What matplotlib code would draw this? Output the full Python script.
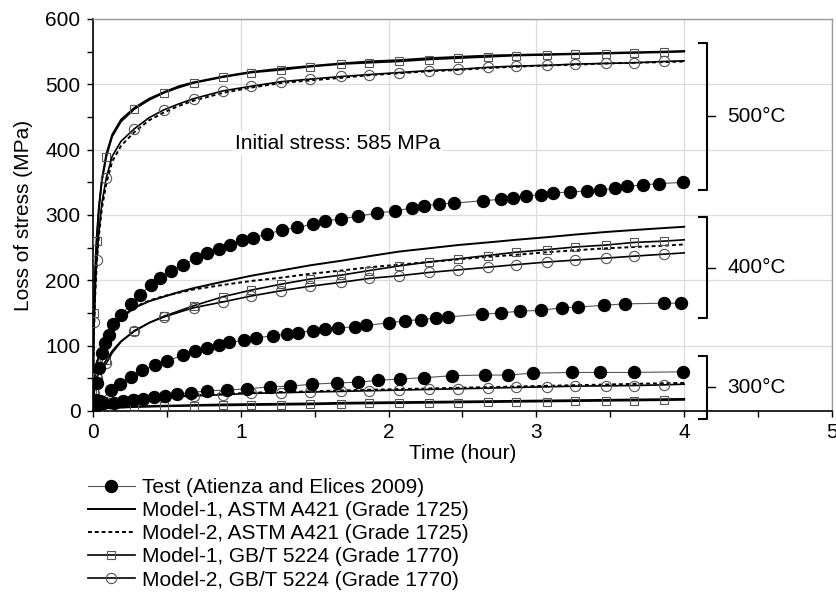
import matplotlib
matplotlib.use('Agg')
import matplotlib.pyplot as plt
from matplotlib.lines import Line2D
from matplotlib.ticker import MultipleLocator

plt.rcParams['font.family'] = ['Liberation Sans', 'DejaVu Sans']
plt.rcParams['font.size'] = 15

# ---------------- data ----------------
# Test data (Atienza and Elices 2009)
TEST_500_T = [0.02, 0.027, 0.04, 0.06, 0.08, 0.11, 0.135, 0.19, 0.26, 0.32, 0.39, 0.45, 0.53, 0.61,
              0.70, 0.77, 0.85, 0.93, 1.01, 1.08, 1.18, 1.28, 1.38, 1.49, 1.57, 1.68, 1.79, 1.92,
              2.04, 2.16, 2.24, 2.34, 2.44, 2.64, 2.76, 2.84, 2.93, 3.03, 3.11, 3.23, 3.34, 3.43,
              3.53, 3.61, 3.72, 3.83, 3.99]
TEST_500_Y = [17, 43, 66, 89, 104, 117, 133, 147, 164, 178, 193, 204, 214, 224,
              234, 242, 248, 254, 261, 265, 271, 277, 281, 286, 291, 294, 298, 303,
              306, 311, 314, 317, 318, 322, 324, 326, 329, 331, 334, 335, 337, 338,
              341, 344, 346, 348, 350]

TEST_400_T = [0.01, 0.05, 0.12, 0.18, 0.26, 0.33, 0.42, 0.50, 0.61, 0.69, 0.77, 0.85, 0.92, 1.02,
              1.10, 1.22, 1.31, 1.39, 1.49, 1.57, 1.66, 1.77, 1.85, 2.00, 2.11, 2.22, 2.32, 2.40,
              2.63, 2.76, 2.89, 3.03, 3.17, 3.28, 3.46, 3.60, 3.86, 3.98]
TEST_400_Y = [5, 15, 32, 41, 52, 62, 70, 77, 85, 92, 96, 101, 105, 108,
              112, 115, 118, 120, 123, 125, 127, 129, 131, 135, 138, 140, 142, 144,
              148, 150, 153, 154, 158, 159, 162, 164, 165, 165]

TEST_300_T = [0.005, 0.02, 0.04, 0.07, 0.14, 0.20, 0.27, 0.34, 0.41, 0.49, 0.57, 0.66, 0.77, 0.91,
              1.04, 1.20, 1.33, 1.48, 1.65, 1.79, 1.93, 2.08, 2.24, 2.43, 2.65, 2.81, 2.98, 3.24,
              3.43, 3.66, 3.99]
TEST_300_Y = [3, 8, 10, 12, 13, 15, 17, 19, 22, 23, 26, 28, 31, 32,
              34, 37, 38, 41, 43, 44, 47, 49, 51, 54, 55, 55, 58, 59,
              59, 59, 60]

# Model curves, common time grid (hour)
T_MODEL = [0.0, 0.003, 0.008, 0.015, 0.025, 0.04, 0.06, 0.09, 0.13, 0.19, 0.28, 0.38, 0.48, 0.58,
           0.68, 0.88, 1.07, 1.27, 1.47, 1.68, 1.87, 2.07, 2.27, 2.47, 2.67, 2.86, 3.07, 3.26,
           3.47, 3.66, 3.86, 4.0]

# 500 C
M1_ASTM_500 = [0, 112, 167, 217, 265, 312, 354, 393, 423, 446, 464, 478, 488, 497,
               503, 512, 519, 524, 528, 532, 535, 537, 540, 542, 544, 545, 546, 547,
               548, 549, 550, 551]
M2_ASTM_500 = [0, 75, 130, 178, 224, 268, 310, 348, 382, 406, 427, 445, 457, 467,
               475, 487, 495, 502, 506, 510, 514, 517, 520, 522, 525, 527, 529, 530,
               532, 533, 534, 535]
M1_GB_500 = [0, 110, 150, 210, 260, 310, 352, 389, 420, 443, 462, 476, 487, 495,
             502, 511, 518, 522, 527, 531, 533, 535, 538, 540, 542, 544, 545, 546,
             547, 548, 549, 550]
M2_GB_500 = [0, 80, 136, 185, 231, 275, 318, 357, 390, 413, 432, 449, 461, 470,
             478, 490, 497, 504, 508, 512, 515, 518, 521, 523, 526, 528, 529, 531,
             532, 533, 535, 536]

# 400 C
M1_ASTM_400 = [0, 25, 45, 60, 72, 84, 96, 110, 126, 142, 158, 168, 175, 182,
               188, 198, 207, 215, 223, 230, 237, 244, 249, 254, 258, 262, 266, 270,
               274, 277, 280, 282]
M2_ASTM_400 = [0, 27, 47, 62, 74, 86, 98, 112, 128, 144, 159, 169, 176, 181,
               186, 193, 199, 204, 210, 215, 220, 224, 228, 232, 236, 239, 243, 246,
               249, 251, 253, 255]
M1_GB_400 = [0, 15, 30, 42, 52, 60, 68, 78, 92, 107, 122, 135, 145, 153,
             161, 175, 185, 194, 202, 208, 215, 222, 228, 233, 238, 243, 247, 251,
             254, 258, 260, 262]
M2_GB_400 = [0, 14, 28, 40, 50, 58, 65, 73, 89, 106, 123, 135, 144, 151,
             158, 167, 176, 184, 191, 197, 203, 207, 212, 216, 220, 224, 228, 231,
             234, 237, 240, 242]

# 300 C
M1_ASTM_300 = [0, 1, 1.5, 2, 2.5, 3, 3.5, 4.5, 5, 6, 7, 7.5, 8, 8.5,
               9, 10, 10.5, 11, 11.5, 12.5, 13, 13.5, 14, 14.5, 15, 15.5, 16, 16.5,
               17, 17.5, 18, 18.5]
M2_ASTM_300 = [0, 3, 5.5, 7.5, 9.5, 11.5, 13.5, 15, 16.5, 18, 19.5, 21, 22, 23,
               24, 26, 28, 29, 30, 31.5, 32.5, 33.5, 34.5, 35.5, 36.5, 37.5, 38.5, 39.5,
               40.5, 41.5, 42.5, 43]
M1_GB_300 = [0, 0.5, 1, 1.5, 2, 2.5, 3, 4, 4.5, 5, 6, 6.5, 7, 7.5,
             8, 8.5, 9, 9.5, 10, 11, 11.5, 12, 12.5, 13, 13.5, 14, 14.5, 15,
             15.5, 16, 16.5, 17]
M2_GB_300 = [0, 3, 5, 7, 9, 11, 13, 14, 16, 17, 19, 20, 21, 22,
             23, 25, 27, 28, 29, 30, 31, 32, 33, 34, 35, 36, 37, 38,
             38.5, 39, 40, 41]

MARK_IDX = [2, 4, 7, 10, 12, 14] + list(range(15, 31))

LABELS = ['Test (Atienza and Elices 2009)',
          'Model-1, ASTM A421 (Grade 1725)',
          'Model-2, ASTM A421 (Grade 1725)',
          'Model-1, GB/T 5224 (Grade 1770)',
          'Model-2, GB/T 5224 (Grade 1770)']

TEMPS = [('500°C', 338, 564), ('400°C', 142, 297), ('300°C', -12, 84)]

# ---------------- styles ----------------
DASH = (0, (2.0, 1.5))
test_kw = dict(color='#555555', lw=0.8, marker='o', ms=8.6, mfc='black', mec='black', zorder=4)
m1a_kw = dict(color='black', lw=1.4, zorder=3)
m2a_kw = dict(color='black', lw=1.4, ls=DASH, zorder=3)
m1g_kw = dict(color='black', lw=1.2, marker='s', ms=5.8, mfc='none', mec='#555555', mew=0.8, zorder=3)
m2g_kw = dict(color='black', lw=1.2, marker='o', ms=7.4, mfc='none', mec='#555555', mew=0.8, zorder=3)

fig = plt.figure(figsize=(8.37, 6.04), dpi=100)
ax = fig.add_axes([93 / 837, 1 - 411 / 604, (832 - 93) / 837, (411 - 19) / 604])

for m1a, m2a, m1g, m2g in [(M1_ASTM_500, M2_ASTM_500, M1_GB_500, M2_GB_500),
                           (M1_ASTM_400, M2_ASTM_400, M1_GB_400, M2_GB_400),
                           (M1_ASTM_300, M2_ASTM_300, M1_GB_300, M2_GB_300)]:
    ax.plot(T_MODEL, m1a, **m1a_kw)
    ax.plot(T_MODEL, m2a, **m2a_kw)
    ax.plot(T_MODEL, m1g, markevery=MARK_IDX, **m1g_kw)
    ax.plot(T_MODEL, m2g, markevery=MARK_IDX, **m2g_kw)

for tt, yy in [(TEST_500_T, TEST_500_Y), (TEST_400_T, TEST_400_Y), (TEST_300_T, TEST_300_Y)]:
    ax.plot(tt, yy, **test_kw)

ax.set_xlim(0, 5)
ax.set_ylim(0, 600)
ax.xaxis.set_major_locator(MultipleLocator(1))
ax.xaxis.set_minor_locator(MultipleLocator(0.5))
ax.yaxis.set_major_locator(MultipleLocator(100))
ax.yaxis.set_minor_locator(MultipleLocator(50))
ax.tick_params(which='both', direction='out', length=4, width=1.0, pad=5, labelsize=15)
ax.grid(True, which='major', color='#dcdcdc', lw=0.9)
ax.set_axisbelow(True)
for s in ['left', 'bottom']:
    ax.spines[s].set_linewidth(1.2)
    ax.spines[s].set_color('black')
for s in ['top', 'right']:
    ax.spines[s].set_linewidth(1.0)
    ax.spines[s].set_color('#9a9a9a')

ax.set_xlabel('Time (hour)', fontsize=15, labelpad=1)
ax.set_ylabel('Loss of stress (MPa)', fontsize=15, labelpad=9)

ax.text(0.96, 410, 'Initial stress: 585 MPa', fontsize=15, va='center', ha='left',
        bbox=dict(fc='white', ec='none', pad=2), zorder=2)

# temperature braces
for label, y0, y1 in TEMPS:
    xv, xl, xr = 4.155, 4.10, 4.21
    ax.plot([xl, xv, xv, xl], [y1, y1, y0, y0], color='black', lw=1.5, clip_on=False, zorder=5)
    ym = (y0 + y1) / 2
    ax.plot([xv, xr], [ym, ym], color='black', lw=1.0, clip_on=False, zorder=5)
    ax.text(4.29, ym, label, fontsize=15, va='center', ha='left',
            bbox=dict(fc='white', ec='none', pad=2), zorder=5)

handles = [Line2D([], [], **{k: v for k, v in test_kw.items() if k != 'zorder'}),
           Line2D([], [], **{k: v for k, v in m1a_kw.items() if k != 'zorder'}),
           Line2D([], [], **{k: v for k, v in m2a_kw.items() if k != 'zorder'}),
           Line2D([], [], **{k: v for k, v in m1g_kw.items() if k != 'zorder'}),
           Line2D([], [], **{k: v for k, v in m2g_kw.items() if k != 'zorder'})]
fig.legend(handles, LABELS, loc='upper left', bbox_to_anchor=(88 / 837, 1 - 478 / 604),
           frameon=False, handlelength=2.25, handletextpad=0.35, labelspacing=0.2,
           borderpad=0, borderaxespad=0, fontsize=15)

fig.savefig('out.png', dpi=100)
